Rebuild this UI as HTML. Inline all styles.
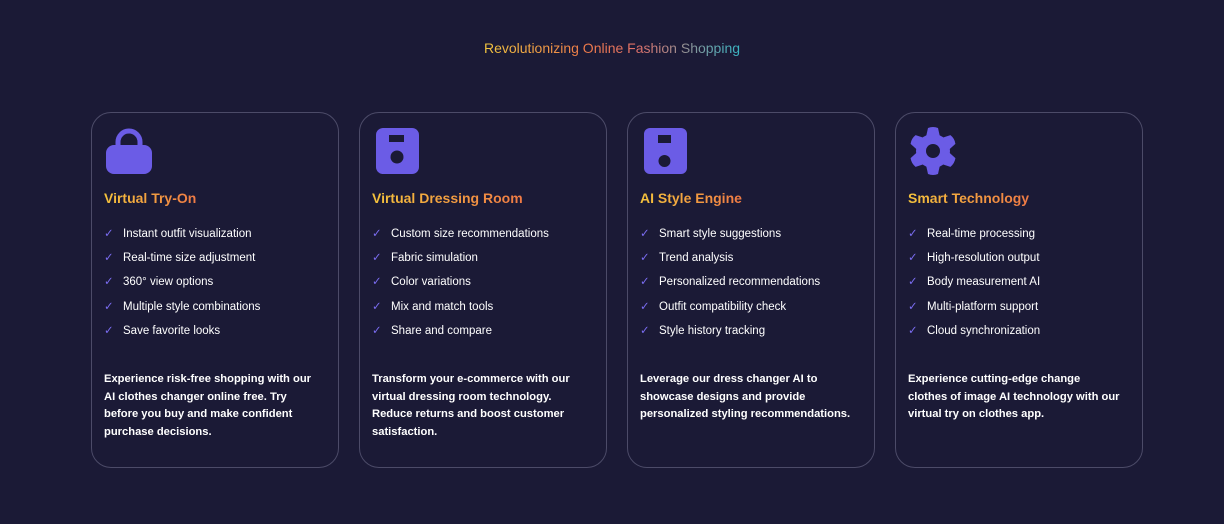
<!DOCTYPE html>
<html><head><style>
body{margin:0;width:1224px;height:524px;background:#1b1a36;font-family:"Liberation Sans",sans-serif;overflow:hidden;position:relative}
.t{position:absolute;top:40px;left:0;width:1224px;text-align:center;font-size:14px}
.t span{background:linear-gradient(90deg,#f2c63f,#ef7a4a 40%,#e0706a 60%,#38b6c4);-webkit-background-clip:text;background-clip:text;color:transparent}
.c{position:absolute;top:112px;width:248px;height:356px;border:1px solid #4c4b68;border-radius:20px;box-sizing:border-box}
.ic{position:absolute;left:13px;top:14px;width:48px;height:48px}
h3{position:absolute;left:12px;top:77px;margin:0;font-size:14px;font-weight:bold}
h3 span{background:linear-gradient(90deg,#f5c33c,#f07a45);-webkit-background-clip:text;background-clip:text;color:transparent}
ul{position:absolute;left:12px;top:113px;margin:0;padding:0;list-style:none}
li{color:#fff;font-size:11.5px;height:24.2px;line-height:16px}
li b{color:#7a6cf0;font-weight:normal;display:inline-block;width:19px}
p{position:absolute;left:12px;top:258px;width:212px;margin:0;color:#fff;font-size:11.2px;font-weight:bold;line-height:17.7px}
</style></head><body>
<div class="t"><span>Revolutionizing Online Fashion Shopping</span></div>

<div class="c" style="left:91px">
<svg class="ic" viewBox="0 0 48 48"><path d="M13 20v-5a11 11 0 0 1 22 0v5" fill="none" stroke="#6b5ce6" stroke-width="5"/><rect x="1" y="18" width="46" height="29" rx="8" fill="#6b5ce6"/></svg>
<h3><span>Virtual Try-On</span></h3>
<ul><li><b>✓</b>Instant outfit visualization</li><li><b>✓</b>Real-time size adjustment</li><li><b>✓</b>360° view options</li><li><b>✓</b>Multiple style combinations</li><li><b>✓</b>Save favorite looks</li></ul>
<p>Experience risk-free shopping with our AI clothes changer online free. Try before you buy and make confident purchase decisions.</p>
</div>

<div class="c" style="left:359px">
<svg class="ic" viewBox="0 0 48 48"><rect x="3" y="1" width="43" height="46" rx="7" fill="#6b5ce6"/><rect x="16" y="8" width="15" height="7" fill="#1b1a36"/><circle cx="24" cy="30" r="6.5" fill="#1b1a36"/></svg>
<h3><span>Virtual Dressing Room</span></h3>
<ul><li><b>✓</b>Custom size recommendations</li><li><b>✓</b>Fabric simulation</li><li><b>✓</b>Color variations</li><li><b>✓</b>Mix and match tools</li><li><b>✓</b>Share and compare</li></ul>
<p>Transform your e-commerce with our virtual dressing room technology. Reduce returns and boost customer satisfaction.</p>
</div>

<div class="c" style="left:627px">
<svg class="ic" viewBox="0 0 48 48"><rect x="3" y="1" width="43" height="46" rx="6" fill="#6b5ce6"/><rect x="17" y="8" width="13" height="8" fill="#1b1a36"/><circle cx="23.5" cy="34" r="6" fill="#1b1a36"/></svg>
<h3><span>AI Style Engine</span></h3>
<ul><li><b>✓</b>Smart style suggestions</li><li><b>✓</b>Trend analysis</li><li><b>✓</b>Personalized recommendations</li><li><b>✓</b>Outfit compatibility check</li><li><b>✓</b>Style history tracking</li></ul>
<p>Leverage our dress changer AI to showcase designs and provide personalized styling recommendations.</p>
</div>

<div class="c" style="left:895px">
<svg class="ic" viewBox="0 0 48 48"><g fill="#6b5ce6" transform="translate(24 24)"><circle r="17"/><g id="tt"><path d="M-7 -14 L-5 -23 Q0 -25 5 -23 L7 -14Z"/></g><use href="#tt" transform="rotate(60)"/><use href="#tt" transform="rotate(120)"/><use href="#tt" transform="rotate(180)"/><use href="#tt" transform="rotate(240)"/><use href="#tt" transform="rotate(300)"/></g><circle cx="24" cy="24" r="7" fill="#1b1a36"/></svg>
<h3><span>Smart Technology</span></h3>
<ul><li><b>✓</b>Real-time processing</li><li><b>✓</b>High-resolution output</li><li><b>✓</b>Body measurement AI</li><li><b>✓</b>Multi-platform support</li><li><b>✓</b>Cloud synchronization</li></ul>
<p>Experience cutting-edge change clothes of image AI technology with our virtual try on clothes app.</p>
</div>
</body></html>
